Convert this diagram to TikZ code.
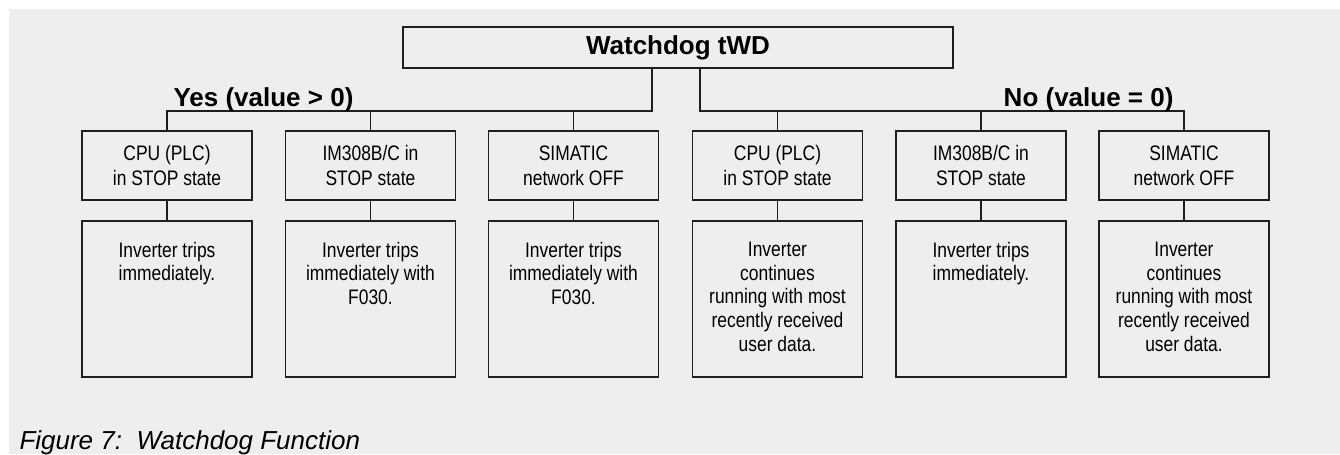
\documentclass[tikz,border=0pt]{standalone}
\usepackage{fontspec}
\setmainfont{Liberation Sans}
\newfontfamily\narrowfont[FakeStretch=0.83]{Liberation Sans}
\usetikzlibrary{positioning}

\definecolor{bggrey}{RGB}{238,238,238}
\definecolor{linegrey}{RGB}{30,30,30}

\tikzset{every picture/.style={line width=0.75pt}}
\tikzset{
  causebox/.style={draw=linegrey, line width=1pt, minimum width=127.5pt, minimum height=51.75pt,
    align=center, inner sep=0pt, font=\narrowfont\fontsize{15.75}{18.5}\selectfont},
  resultbox/.style={draw=linegrey, line width=1pt, minimum width=127.5pt, minimum height=117pt, inner sep=0pt},
  resulttext/.style={align=center, inner sep=0pt, font=\narrowfont\fontsize{15.75}{17.8}\selectfont},
  branch/.style={draw=linegrey, line width=1.2pt},
  headtext/.style={inner sep=0pt, font=\fontsize{19.5}{23}\selectfont\bfseries},
}

\begin{document}
\begin{tikzpicture}[x=0.75pt,y=0.75pt,yscale=-1,xscale=1]
    \useasboundingbox (0,0) rectangle (1340,454);
    %Background
    \fill[bggrey] (9,9) rectangle (1340,454);

    %Shape: Rectangle (top)
    \node[draw=linegrey, line width=1pt, minimum width=412.5pt, minimum height=30.75pt, inner sep=0pt,
      font=\fontsize{19.5}{23}\selectfont\bfseries] (wd) at (678,47.5) {Watchdog tWD};

    %Branch points
    \coordinate (yesjoin) at (652,111);
    \coordinate (nojoin) at (700,111);

    %Shape: Rectangle (causes)
    \node[causebox] (c1) at (167,165.5) {CPU (PLC)\\in STOP state};
    \node[causebox] (c2) at (370.5,165.5) {IM308B/C in\\STOP state};
    \node[causebox] (c3) at (573.5,165.5) {SIMATIC\\network OFF};
    \node[causebox] (c4) at (777.5,165.5) {CPU (PLC)\\in STOP state};
    \node[causebox] (c5) at (981,165.5) {IM308B/C in\\STOP state};
    \node[causebox] (c6) at (1184,165.5) {SIMATIC\\network OFF};

    %Shape: Rectangle (results)
    \node[resultbox] (r1) at (167,299) {};
    \node[resultbox] (r2) at (370.5,299) {};
    \node[resultbox] (r3) at (573.5,299) {};
    \node[resultbox] (r4) at (777.5,299) {};
    \node[resultbox] (r5) at (981,299) {};
    \node[resultbox] (r6) at (1184,299) {};

    % Text Node
    \node[resulttext, below=15.75pt of r1.north] (t1) {Inverter trips\\immediately.};
    \node[resulttext, below=15.75pt of r2.north] (t2) {Inverter trips\\immediately with\\F030.};
    \node[resulttext, below=15.75pt of r3.north] (t3) {Inverter trips\\immediately with\\F030.};
    \node[resulttext, below=15.75pt of r4.north] (t4) {Inverter\\continues\\running with most\\recently received\\user data.};
    \node[resulttext, below=15.75pt of r5.north] (t5) {Inverter trips\\immediately.};
    \node[resulttext, below=15.75pt of r6.north] (t6) {Inverter\\continues\\running with most\\recently received\\user data.};

    %Straight Lines (yes branch)
    \draw[branch] (wd.south -| yesjoin) -- (yesjoin) -- (c1.north |- yesjoin) -- (c1.north);
    \draw[branch] (c2.north |- yesjoin) -- (c2.north);
    \draw[branch] (c3.north |- yesjoin) -- (c3.north);
    %Straight Lines (no branch)
    \draw[branch] (wd.south -| nojoin) -- (nojoin) -- (c6.north |- nojoin) -- (c6.north);
    \draw[branch] (c4.north |- nojoin) -- (c4.north);
    \draw[branch] (c5.north |- nojoin) -- (c5.north);
    %Straight Lines (cause to result)
    \draw[branch] (c1) -- (r1);
    \draw[branch] (c2) -- (r2);
    \draw[branch] (c3) -- (r3);
    \draw[branch] (c4) -- (r4);
    \draw[branch] (c5) -- (r5);
    \draw[branch] (c6) -- (r6);

    % Text Node
    \node[headtext, anchor=base west] (yes) at (173,106) {Yes (value > 0)};
    % Text Node
    \node[headtext, anchor=base east] (no) at (1174,106) {No (value = 0)};
    % Text Node
    \node[inner sep=0pt, anchor=base west, font=\fontsize{19.5}{23}\selectfont\itshape] (caption) at (19,449)
      {Figure 7:\ \ Watchdog Function};
\end{tikzpicture}
\end{document}
